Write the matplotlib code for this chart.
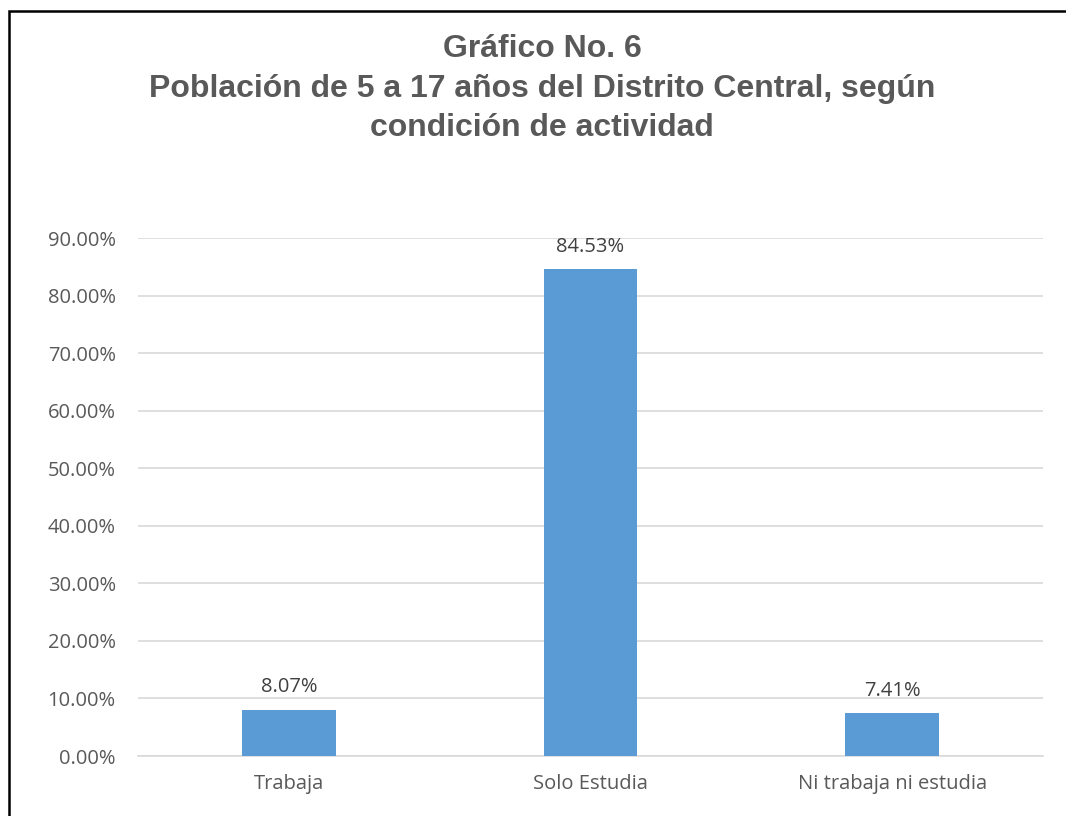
import matplotlib.pyplot as plt
from matplotlib.patches import Rectangle

categories = ["Trabaja", "Solo Estudia", "Ni trabaja ni estudia"]
values = [8.07, 84.53, 7.41]
value_labels = ["8.07%", "84.53%", "7.41%"]
yticks = [0, 10, 20, 30, 40, 50, 60, 70, 80, 90]
ytick_labels = ["%.2f%%" % t for t in yticks]
title_lines = ["Gráfico No. 6",
               "Población de 5 a 17 años del Distrito Central, según",
               "condición de actividad"]

W, H = 1066, 816
fig = plt.figure(figsize=(W / 100, H / 100), dpi=100)

# outer border: only left and top edges visible in the reference
fig.patches.append(Rectangle((8.5 / W, -0.1), 1.2, 1 - 10.5 / H + 0.1,
                             transform=fig.transFigure, fill=False,
                             edgecolor="black", linewidth=1.8))

ax = fig.add_axes([138 / W, 1 - 756 / H, (1043 - 138) / W, (756 - 238) / H])

x = range(len(categories))
ax.bar(x, values, width=0.31, color="#5b9bd5", zorder=3)
for xi, v, lab in zip(x, values, value_labels):
    ax.annotate(lab, (xi, v), xytext=(0, 9), textcoords="offset points",
                ha="center", va="bottom", fontsize=14.5, color="#404040",
                family="Open Sans")

ax.set_xlim(-0.5, 2.5)
ax.set_ylim(0, 90)
ax.set_yticks(yticks)
ax.set_yticklabels(ytick_labels)
ax.set_xticks(list(x))
ax.set_xticklabels(categories)
for lab in ax.get_xticklabels() + ax.get_yticklabels():
    lab.set_family("Open Sans")
    lab.set_fontsize(14.5)
    lab.set_color("#595959")
ax.tick_params(axis="y", length=0, pad=16)
ax.tick_params(axis="x", length=0, pad=13)
ax.grid(axis="y", color="#d9d9d9", linewidth=1.2, zorder=0)
for s in ["top", "right", "left"]:
    ax.spines[s].set_visible(False)
ax.spines["bottom"].set_color("#d9d9d9")
ax.spines["bottom"].set_linewidth(1.2)

for ypix, line in zip([49, 89, 128], title_lines):
    fig.text(542 / W, 1 - ypix / H, line, ha="center", va="center",
             fontsize=23, fontweight="bold", color="#595959",
             family="Liberation Sans")

fig.savefig("out.png", dpi=100)
